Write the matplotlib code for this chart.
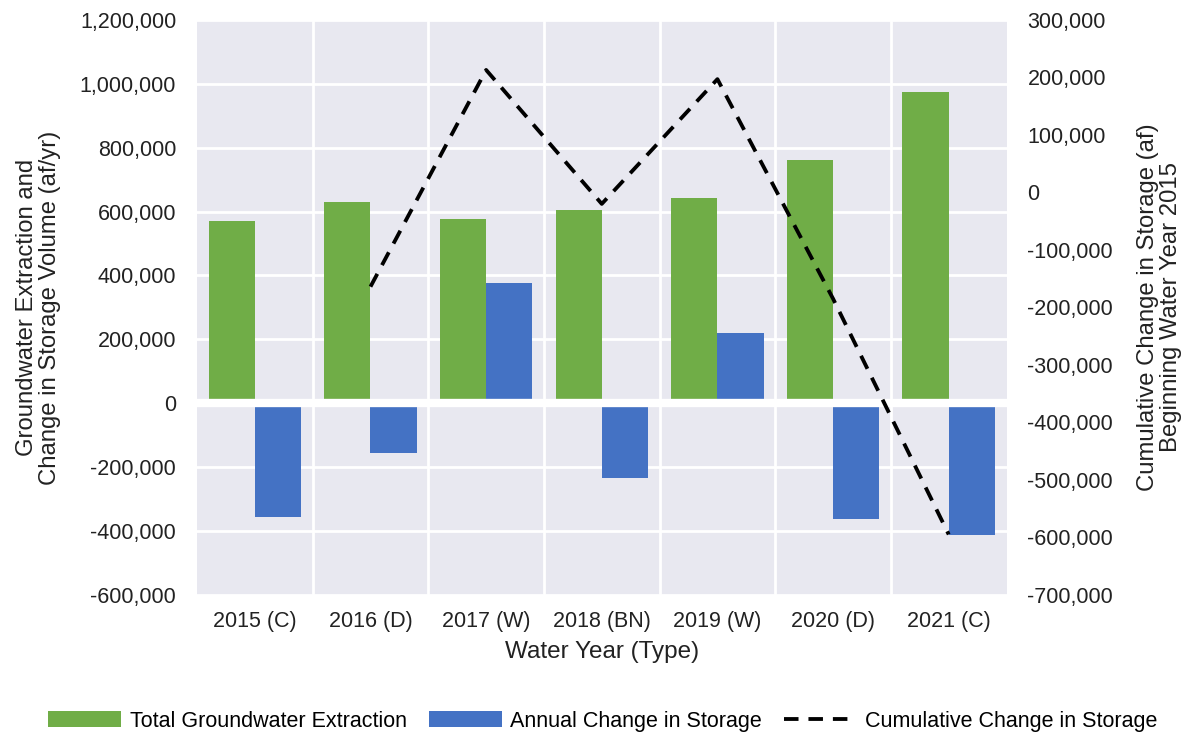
import numpy as np
import matplotlib.pyplot as plt
from matplotlib.ticker import FuncFormatter, MultipleLocator

plt.rcParams['font.family'] = ['Liberation Sans', 'DejaVu Sans']

# data
years = ['2015 (C)', '2016 (D)', '2017 (W)', '2018 (BN)', '2019 (W)', '2020 (D)', '2021 (C)']
extraction = [570000, 630000, 576000, 604000, 643000, 761000, 975000]
annual_change = [-357000, -155000, 377000, -234000, 221000, -364000, -413000]
cumulative = [np.nan, -164000, 213000, -20000, 197000, -185000, -595000]

green = '#70AD47'
blue = '#4472C4'
bg = '#E8E8F0'
txt = '#222222'

fig, ax = plt.subplots(figsize=(11.94, 7.38), dpi=100)
fig.subplots_adjust(left=0.165, right=0.843, top=0.973, bottom=0.194)

x = np.arange(len(years))
w = 0.4

# bars
ax.set_facecolor(bg)
b1 = ax.bar(x - w / 2, extraction, w, color=green, zorder=2,
            label='Total Groundwater Extraction')
b2 = ax.bar(x + w / 2, annual_change, w, color=blue, zorder=2,
            label='Annual Change in Storage')

ax.set_xlim(-0.5, len(years) - 0.5)
ax.set_ylim(-600000, 1200000)
ax.yaxis.set_major_locator(MultipleLocator(200000))
ax.yaxis.set_major_formatter(FuncFormatter(lambda v, p: f'{v:,.0f}'))
ax.set_xticks(x)
ax.set_xticklabels(years)
ax.set_xticks(x[:-1] + 0.5, minor=True)

# white grid
ax.grid(True, axis='y', which='major', color='white', lw=2, zorder=1)
ax.grid(True, axis='x', which='minor', color='white', lw=2, zorder=1)
ax.grid(False, axis='x', which='major')
ax.axhline(0, color='white', lw=6, zorder=3)

ax.tick_params(axis='both', which='both', length=0, labelsize=15.5, colors=txt)
ax.tick_params(axis='x', pad=12)
ax.tick_params(axis='y', pad=15)
for s in ax.spines.values():
    s.set_visible(False)

ax.set_xlabel('Water Year (Type)', fontsize=17.5, color=txt, labelpad=6)
ax.set_ylabel('Groundwater Extraction and\nChange in Storage Volume (af/yr)',
              fontsize=17.2, color=txt, linespacing=1.05)
ax.yaxis.set_label_coords(-0.168, 0.5)

# cumulative line on right axis
ax2 = ax.twinx()
l1, = ax2.plot(x, cumulative, color='black', lw=2.75, linestyle=(0, (3.8, 2.6)),
               label='Cumulative Change in Storage', zorder=4)
ax2.set_ylim(-700000, 300000)
ax2.yaxis.set_major_locator(MultipleLocator(100000))
ax2.yaxis.set_major_formatter(FuncFormatter(lambda v, p: f'{v:,.0f}'))
ax2.tick_params(axis='y', length=0, labelsize=15.5, colors=txt, pad=15)
for s in ax2.spines.values():
    s.set_visible(False)
ax2.set_ylabel('Cumulative Change in Storage (af)\nBeginning Water Year 2015',
               fontsize=17.2, color=txt, linespacing=1.05)
ax2.yaxis.set_label_coords(1.161, 0.5)

fig.legend(handles=[b1, b2, l1], loc='center', bbox_to_anchor=(0.505, 0.023),
           ncol=3, frameon=False, fontsize=15.5, handlelength=3.4,
           columnspacing=1.0, handletextpad=0.4)

fig.savefig('out.png', dpi=100, facecolor='white')
